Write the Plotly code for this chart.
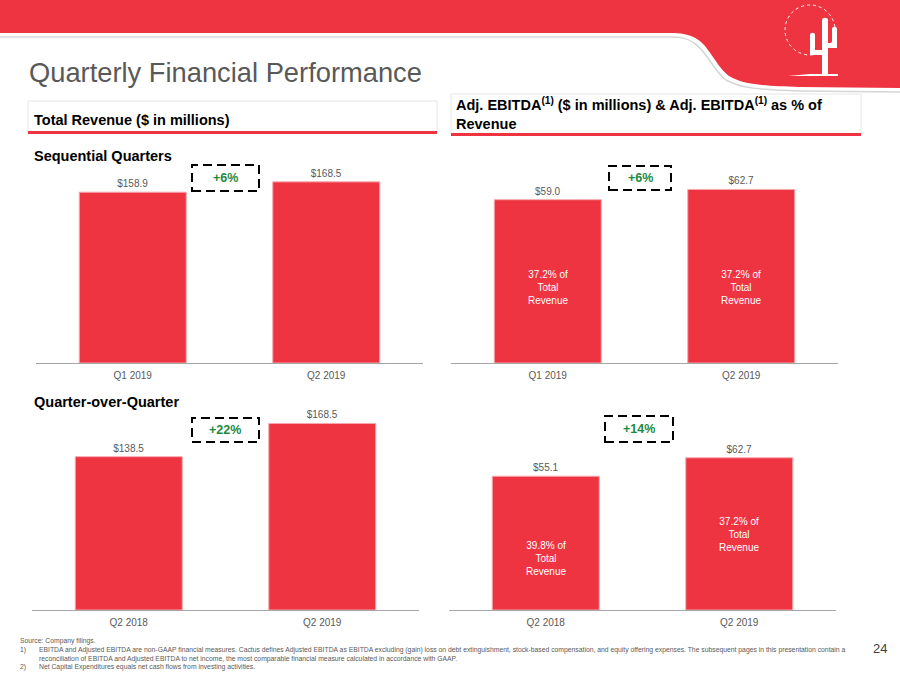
import plotly.graph_objects as go

# ---------------- data ----------------
seq_quarters = ["Q1 2019", "Q2 2019"]
qoq_quarters = ["Q2 2018", "Q2 2019"]
revenue_seq = [158.9, 168.5]
revenue_qoq = [138.5, 168.5]
ebitda_seq = [59.0, 62.7]
ebitda_qoq = [55.1, 62.7]
margin_seq = [37.2, 37.2]
margin_qoq = [39.8, 37.2]
growth_rev_seq = "+6%"
growth_ebitda_seq = "+6%"
growth_rev_qoq = "+22%"
growth_ebitda_qoq = "+14%"

footnotes = [
    ("", "Source: Company filings."),
    ("1)", "EBITDA and Adjusted EBITDA are non-GAAP financial measures. Cactus defines Adjusted EBITDA as EBITDA excluding (gain) loss on debt extinguishment, stock-based compensation, and equity offering expenses. The subsequent pages in this presentation contain a"),
    ("", "reconciliation of EBITDA and Adjusted EBITDA to net income, the most comparable financial measure calculated in accordance with GAAP."),
    ("2)", "Net Capital Expenditures equals net cash flows from investing activities."),
]

# ---------------- style ----------------
W, H = 900, 675
RED = "#EE3441"
GRAY = "#595959"
GREEN = "#1E8A3E"
FONT = "Arial, Liberation Sans, sans-serif"


def px(x):
    return x / W


def py(y):
    return 1 - y / H


fig = go.Figure()

bar_kw = dict(width=0.553, marker=dict(color=RED, line=dict(color="#F6A9AF", width=1)),
              cliponaxis=False, hoverinfo="skip")

fig.add_trace(go.Bar(x=seq_quarters, y=revenue_seq, xaxis="x", yaxis="y",
                     text=revenue_seq, texttemplate="$%{y:.1f}", textposition="outside",
                     textfont=dict(size=10, color=GRAY, family=FONT), **bar_kw))
fig.add_trace(go.Bar(x=seq_quarters, y=ebitda_seq, xaxis="x2", yaxis="y2",
                     text=ebitda_seq, texttemplate="$%{y:.1f}", textposition="outside",
                     textfont=dict(size=10, color=GRAY, family=FONT), **bar_kw))
fig.add_trace(go.Bar(x=qoq_quarters, y=revenue_qoq, xaxis="x3", yaxis="y3",
                     text=revenue_qoq, texttemplate="$%{y:.1f}", textposition="outside",
                     textfont=dict(size=10, color=GRAY, family=FONT), **bar_kw))
fig.add_trace(go.Bar(x=qoq_quarters, y=ebitda_qoq, xaxis="x4", yaxis="y4",
                     text=ebitda_qoq, texttemplate="$%{y:.1f}", textposition="outside",
                     textfont=dict(size=10, color=GRAY, family=FONT), **bar_kw))

xkw = dict(showline=True, linecolor="#A6A6A6", linewidth=1, ticks="", showgrid=False,
           zeroline=False, tickfont=dict(size=10, color=GRAY, family=FONT),
           range=[-0.5, 1.5], fixedrange=True, ticklabelstandoff=3)
ykw = dict(visible=False, showgrid=False, zeroline=False, fixedrange=True)

layout = dict(
    width=W, height=H, margin=dict(l=0, r=0, t=0, b=0),
    paper_bgcolor="white", plot_bgcolor="white", showlegend=False,
    font=dict(family=FONT),
    xaxis=dict(domain=[px(36), px(423)], anchor="y", **xkw),
    yaxis=dict(domain=[py(363), py(150)], anchor="x", range=[0, 213 / 1.075], **ykw),
    xaxis2=dict(domain=[px(451), px(838)], anchor="y2", **xkw),
    yaxis2=dict(domain=[py(363), py(150)], anchor="x2", range=[0, 213 / 2.768], **ykw),
    xaxis3=dict(domain=[px(32), px(419)], anchor="y3", **xkw),
    yaxis3=dict(domain=[py(610), py(400)], anchor="x3", range=[0, 210 / 1.107], **ykw),
    xaxis4=dict(domain=[px(449), px(836)], anchor="y4", **xkw),
    yaxis4=dict(domain=[py(610), py(400)], anchor="x4", range=[0, 210 / 2.428], **ykw),
)
fig.update_layout(**layout)

shapes = []
annotations = []

# ---- header band ----
band = (f"M 0,1 L 1,1 L 1,{py(88)} L {px(800)},{py(87)} "
        f"C {px(760)},{py(86)} {px(742)},{py(84)} {px(729)},{py(76)} "
        f"C {px(716)},{py(66)} {px(709)},{py(46)} {px(697)},{py(39)} "
        f"C {px(689)},{py(34)} {px(681)},{py(33)} {px(670)},{py(33)} "
        f"L 0,{py(33)} Z")
shapes.append(dict(type="path", xref="paper", yref="paper", path=band,
                   fillcolor=RED, line=dict(width=0), layer="below"))
shadow = (f"M 0,{py(37)} L {px(670)},{py(37)} "
          f"C {px(681)},{py(37)} {px(687)},{py(38)} {px(694)},{py(43)} "
          f"C {px(706)},{py(50)} {px(713)},{py(70)} {px(726)},{py(80)} "
          f"C {px(740)},{py(88)} {px(760)},{py(90)} {px(800)},{py(91)} "
          f"L 1,{py(92)}")
shapes.append(dict(type="path", xref="paper", yref="paper", path=shadow,
                   line=dict(color="#D6D6D6", width=1.5)))

# ---- logo ----
shapes.append(dict(type="circle", xref="paper", yref="paper",
                   x0=px(785), x1=px(835), y0=py(55), y1=py(5),
                   line=dict(color="white", width=1, dash="dot")))
cactus = (f"M {px(822)},{py(75)} L {px(822)},{py(20)} "
          f"C {px(822)},{py(17)} {px(828)},{py(17)} {px(828)},{py(20)} "
          f"L {px(828)},{py(43)} L {px(832)},{py(43)} L {px(832)},{py(29)} "
          f"C {px(832)},{py(26)} {px(837)},{py(26)} {px(837)},{py(29)} "
          f"L {px(837)},{py(48)} L {px(828)},{py(48)} L {px(828)},{py(75)} Z")
shapes.append(dict(type="path", xref="paper", yref="paper", path=cactus,
                   fillcolor="white", line=dict(width=0)))
arm = (f"M {px(822)},{py(50)} L {px(815)},{py(50)} L {px(815)},{py(35)} "
       f"C {px(815)},{py(32)} {px(810)},{py(32)} {px(810)},{py(35)} "
       f"L {px(810)},{py(55)} L {px(822)},{py(55)} Z")
shapes.append(dict(type="path", xref="paper", yref="paper", path=arm,
                   fillcolor="white", line=dict(width=0)))
ground = (f"M {px(788)},{py(76)} L {px(810)},{py(74)} L {px(838)},{py(74)} "
          f"L {px(838)},{py(76)} Z")
shapes.append(dict(type="path", xref="paper", yref="paper", path=ground,
                   fillcolor="white", line=dict(width=0)))

# ---- section header boxes ----
shapes.append(dict(type="rect", xref="paper", yref="paper",
                   x0=px(28), x1=px(437), y0=py(133), y1=py(101),
                   line=dict(color="#E6E6E6", width=1), fillcolor="white", layer="below"))
shapes.append(dict(type="rect", xref="paper", yref="paper",
                   x0=px(28), x1=px(437), y0=py(134), y1=py(131),
                   line=dict(width=0), fillcolor=RED))
shapes.append(dict(type="rect", xref="paper", yref="paper",
                   x0=px(451), x1=px(861), y0=py(135), y1=py(94),
                   line=dict(color="#E6E6E6", width=1), fillcolor="white", layer="below"))
shapes.append(dict(type="rect", xref="paper", yref="paper",
                   x0=px(451), x1=px(861), y0=py(136), y1=py(133),
                   line=dict(width=0), fillcolor=RED))

# ---- growth boxes ----
growth = [
    (growth_rev_seq, 192, 259, 165, 191),
    (growth_ebitda_seq, 609, 671, 166, 190),
    (growth_rev_qoq, 192, 259, 418, 442),
    (growth_ebitda_qoq, 605, 673, 416, 442),
]
for label, x0, x1, y0, y1 in growth:
    shapes.append(dict(type="rect", xref="paper", yref="paper",
                       x0=px(x0), x1=px(x1), y0=py(y1), y1=py(y0),
                       line=dict(color="black", width=2, dash="9px,5px"),
                       fillcolor="rgba(0,0,0,0)"))
    annotations.append(dict(xref="paper", yref="paper", x=px((x0 + x1) / 2),
                            y=py((y0 + y1) / 2), text=f"<b>{label}</b>", showarrow=False,
                            xanchor="center", yanchor="middle",
                            font=dict(size=12.5, color=GREEN, family=FONT)))

# ---- inside labels for EBITDA margin ----
inside_y_seq = [27.1, 27.1]
inside_y_qoq = [21.4, 31.3]
for cat, m, yy in zip(seq_quarters, margin_seq, inside_y_seq):
    annotations.append(dict(xref="x2", yref="y2", x=cat, y=yy,
                            text=f"{m:.1f}% of<br>Total<br>Revenue", showarrow=False,
                            font=dict(size=10, color="white", family=FONT)))
for cat, m, yy in zip(qoq_quarters, margin_qoq, inside_y_qoq):
    annotations.append(dict(xref="x4", yref="y4", x=cat, y=yy,
                            text=f"{m:.1f}% of<br>Total<br>Revenue", showarrow=False,
                            font=dict(size=10, color="white", family=FONT)))

# ---- texts ----
annotations.append(dict(xref="paper", yref="paper", x=px(27), y=py(72),
                        text="Quarterly Financial Performance", showarrow=False,
                        xanchor="left", yanchor="middle",
                        font=dict(size=27.3, color=GRAY, family=FONT)))
annotations.append(dict(xref="paper", yref="paper", x=px(32), y=py(120),
                        text="<b>Total Revenue ($ in millions)</b>", showarrow=False,
                        xanchor="left", yanchor="middle",
                        font=dict(size=14.5, color="black", family=FONT)))
annotations.append(dict(xref="paper", yref="paper", x=px(454), y=py(114),
                        text="<b>Adj. EBITDA<sup>(1)</sup> ($ in millions) &amp; Adj. EBITDA<sup>(1)</sup> as % of<br>Revenue</b>",
                        showarrow=False, xanchor="left", yanchor="middle", align="left",
                        font=dict(size=14.5, color="black", family=FONT)))
annotations.append(dict(xref="paper", yref="paper", x=px(32), y=py(156),
                        text="<b>Sequential Quarters</b>", showarrow=False,
                        xanchor="left", yanchor="middle",
                        font=dict(size=14.5, color="black", family=FONT)))
annotations.append(dict(xref="paper", yref="paper", x=px(32), y=py(402),
                        text="<b>Quarter-over-Quarter</b>", showarrow=False,
                        xanchor="left", yanchor="middle",
                        font=dict(size=14.5, color="black", family=FONT)))

foot_y = [641, 650, 658.5, 667]
for (num, txt), yy in zip(footnotes, foot_y):
    if num:
        annotations.append(dict(xref="paper", yref="paper", x=px(18), y=py(yy), text=num,
                                showarrow=False, xanchor="left", yanchor="middle",
                                font=dict(size=6.8, color=GRAY, family=FONT)))
        xx = 37
    else:
        xx = 18 if txt.startswith("Source") else 37
    annotations.append(dict(xref="paper", yref="paper", x=px(xx), y=py(yy), text=txt,
                            showarrow=False, xanchor="left", yanchor="middle",
                            font=dict(size=6.8, color=GRAY, family=FONT)))

annotations.append(dict(xref="paper", yref="paper", x=px(880), y=py(648), text="24",
                        showarrow=False, xanchor="center", yanchor="middle",
                        font=dict(size=13, color="#404040", family=FONT)))

fig.update_layout(shapes=shapes, annotations=annotations)
fig.write_html("out.html", config={"displayModeBar": False},
               post_script="document.body.style.margin='0';document.body.style.overflow='hidden';")
